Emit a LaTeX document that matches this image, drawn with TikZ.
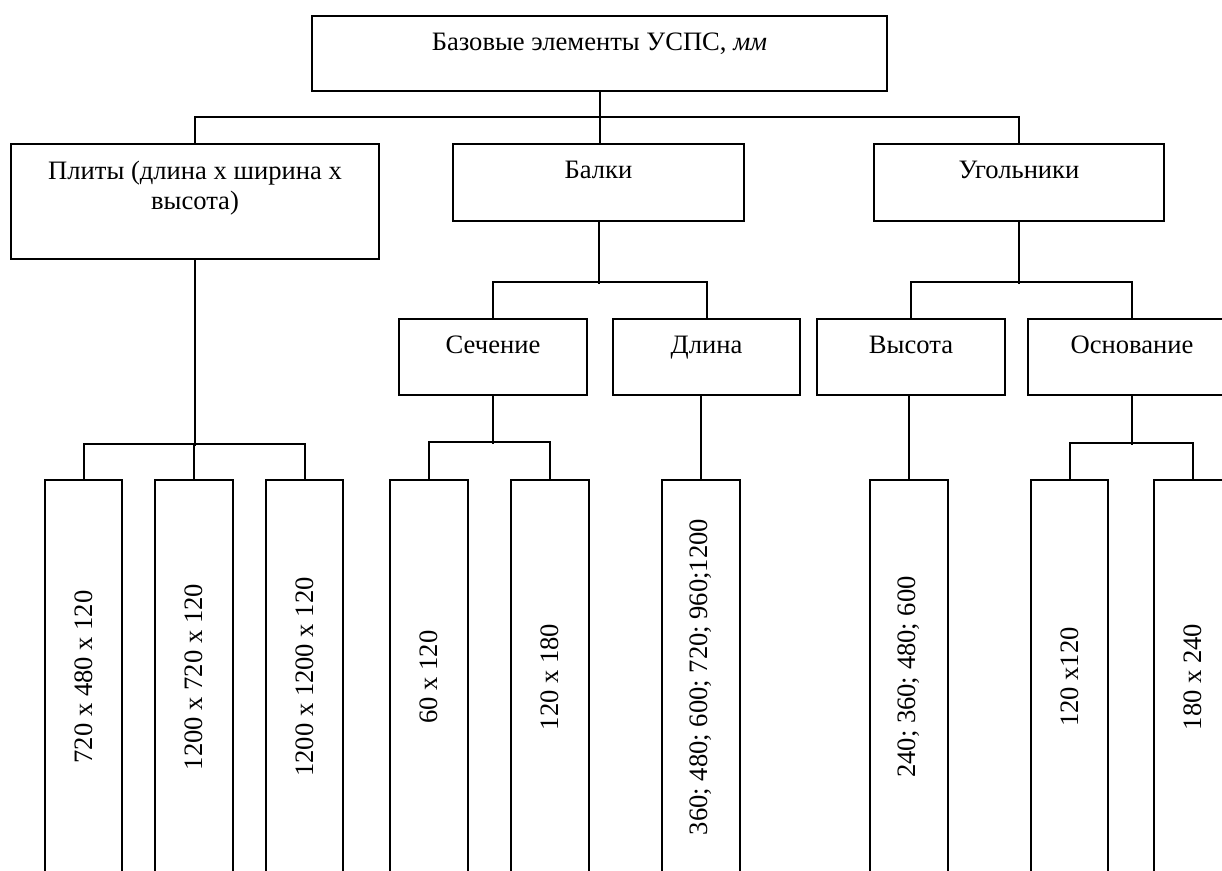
\documentclass[tikz,border=0pt]{standalone}
\usepackage{fontspec}
\setmainfont{Liberation Serif}
\usetikzlibrary{fit}
\begin{document}
\begin{tikzpicture}[x=0.5pt,y=-0.5pt,
  box/.style={draw,line width=1pt,inner sep=0pt,rectangle},
  lbl/.style={font=\fontsize{13.3pt}{15pt}\selectfont,inner sep=0pt,anchor=base},
  leaftxt/.style={font=\fontsize{13.3pt}{15pt}\selectfont,inner sep=0pt,rotate=90},
  wire/.style={line width=1pt}]
\clip (0,0) rectangle (1222,871);
\fill[white] (0,0) rectangle (1222,871);
% level 0 and 1
\node[box, fit={(312,16) (887,91)}] (top) {};
\node[box, fit={(11,144) (379,259)}] (plates) {};
\node[box, fit={(453,144) (744,221)}] (balki) {};
\node[box, fit={(874,144) (1164,221)}] (ugol) {};
% level 2
\node[box, fit={(399,319) (587,395)}] (sech) {};
\node[box, fit={(613,319) (800,395)}] (dlina) {};
\node[box, fit={(817,319) (1005,395)}] (vys) {};
\node[box, fit={(1028,319) (1236,395)}] (osn) {};
% leaves
\node[box, fit={(45,480) (122,874)}] (l1) {};
\node[box, fit={(155,480) (233,874)}] (l2) {};
\node[box, fit={(266,480) (343,874)}] (l3) {};
\node[box, fit={(390,480) (468,874)}] (l4) {};
\node[box, fit={(511,480) (589,874)}] (l5) {};
\node[box, fit={(662,480) (740,874)}] (l6) {};
\node[box, fit={(870,480) (948,874)}] (l7) {};
\node[box, fit={(1031,480) (1108,874)}] (l8) {};
\node[box, fit={(1154,480) (1232,874)}] (l9) {};
% texts
\node[lbl] (tTop) at ([yshift=-18pt]top.north) {Базовые элементы УСПС, \textit{мм}};
\node[lbl, align=center, anchor=north] (tPlates) at ([yshift=-8.8pt]plates.north) {Плиты (длина х ширина х\\высота)};
\node[lbl] (tBalki) at ([yshift=-18pt]balki.north) {Балки};
\node[lbl] (tUgol) at ([yshift=-18pt]ugol.north) {Угольники};
\node[lbl] (tSech) at ([yshift=-18pt]sech.north) {Сечение};
\node[lbl] (tDlina) at ([yshift=-18pt]dlina.north) {Длина};
\node[lbl] (tVys) at ([yshift=-18pt]vys.north) {Высота};
\node[lbl] (tOsn) at ([yshift=-18pt]osn.north) {Основание};
\node[leaftxt] (t1) at (l1.center) {720 x 480 x 120};
\node[leaftxt] (t2) at (l2.center) {1200 x 720 x 120};
\node[leaftxt] (t3) at (l3.center) {1200 x 1200 x 120};
\node[leaftxt] (t4) at (l4.center) {60 x 120};
\node[leaftxt] (t5) at (l5.center) {120 x 180};
\node[leaftxt] (t6) at (l6.center) {360; 480; 600; 720; 960;1200};
\node[leaftxt] (t7) at (l7.center) {240; 360; 480; 600};
\node[leaftxt] (t8) at (l8.center) {120 x120};
\node[leaftxt] (t9) at (l9.center) {180 x 240};
% connectors
\draw[wire] (top.south) -- (top.south |- balki.north);
\draw[wire] (plates.north) -- ++(0,-26) -| (ugol.north);
\draw[wire] (balki.south) -- ++(0,62);
\draw[wire] (sech.north) -- ++(0,-36) -| (dlina.north);
\draw[wire] (ugol.south) -- ++(0,62);
\draw[wire] (vys.north) -- ++(0,-36) -| (osn.north);
\draw[wire] (plates.south) -- ++(0,186);
\draw[wire] (l1.north) -- ++(0,-35) -| (l3.north);
\draw[wire] (l2.north) -- ++(0,-35);
\draw[wire] (sech.south) -- ++(0,48);
\draw[wire] (l4.north) -- ++(0,-37) -| (l5.north);
\draw[wire] (l6.north) -- (l6.north |- dlina.south);
\draw[wire] (l7.north) -- (l7.north |- vys.south);
\draw[wire] (osn.south) -- ++(0,49);
\draw[wire] (l8.north) -- ++(0,-36) -| (l9.north);
\end{tikzpicture}
\end{document}
